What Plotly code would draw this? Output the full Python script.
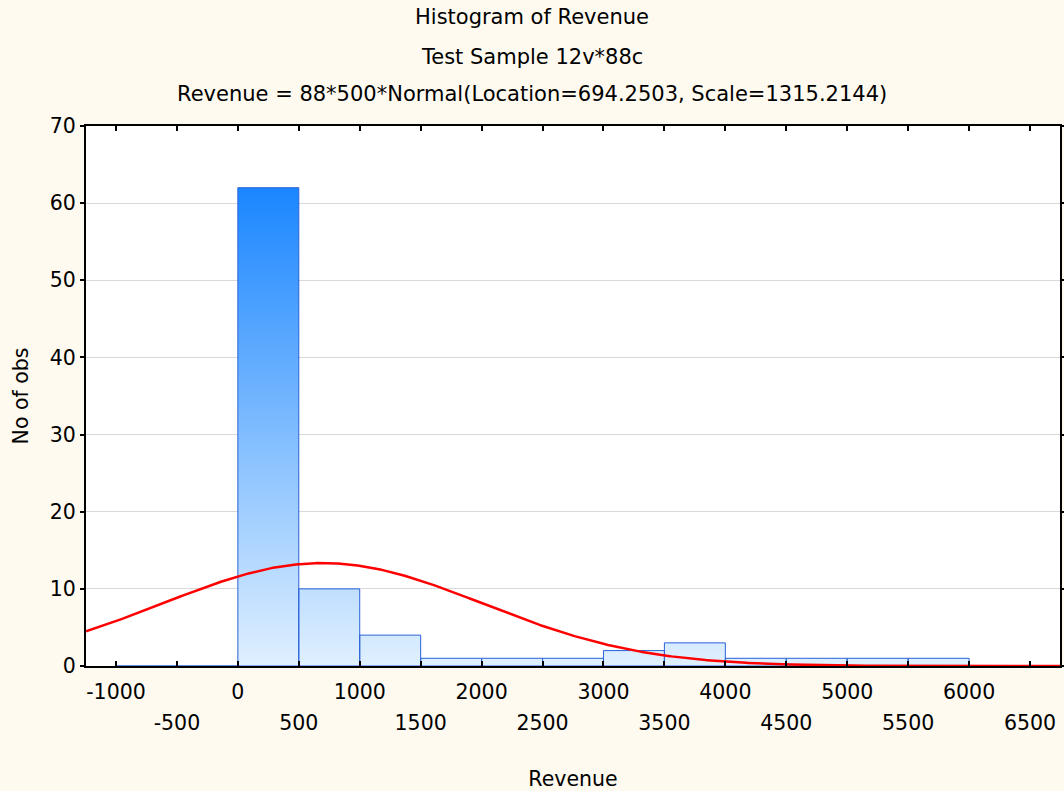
import numpy as np
import plotly.graph_objects as go

# ---- data ----
bin_starts = [-1000, -500, 0, 500, 1000, 1500, 2000, 2500, 3000, 3500, 4000, 4500, 5000, 5500]
bin_width = 500
counts = [0, 0, 62, 10, 4, 1, 1, 1, 2, 3, 1, 1, 1, 1]
n_obs = 88
location = 694.2503
scale = 1315.2144
x_tick_vals = [-1000, -500, 0, 500, 1000, 1500, 2000, 2500, 3000, 3500, 4000, 4500, 5000, 5500, 6000, 6500]
y_tick_vals = [0, 10, 20, 30, 40, 50, 60, 70]
x_range = [-1246, 6746]
y_range = [0, 70]

FONT = "DejaVu Sans"
FS = 20.5

# bar polygons (separate segments split by None)
px, py = [], []
for s, c in zip(bin_starts, counts):
    e = s + bin_width
    px += [s, s, e, e, s, None]
    py += [0, c, c, 0, 0, None]

fig = go.Figure()
fig.add_trace(go.Scatter(
    x=px, y=py, mode="lines", fill="toself",
    line=dict(color="#2a62d8", width=1),
    fillgradient=dict(type="vertical",
                      colorscale=[[0, "#e0f0ff"], [1, "#1a86ff"]],
                      start=0, stop=max(counts)),
    hoverinfo="skip", showlegend=False))

# fitted normal curve
xc = np.linspace(x_range[0], x_range[1], 600)
yc = n_obs * bin_width * np.exp(-0.5 * ((xc - location) / scale) ** 2) / (scale * np.sqrt(2 * np.pi))
fig.add_trace(go.Scatter(x=xc, y=yc, mode="lines", line=dict(color="#ff0000", width=2.5),
                         hoverinfo="skip", showlegend=False))
# invisible trace for second x axis
fig.add_trace(go.Scatter(x=[x_range[0]], y=[0], xaxis="x2", mode="markers",
                         marker=dict(opacity=0), hoverinfo="skip", showlegend=False))

row1 = [str(v) if v % 1000 == 0 else "" for v in x_tick_vals]
row2_vals = [v for v in x_tick_vals if v % 1000 != 0]

fig.update_layout(
    width=1064, height=791,
    margin=dict(l=86, r=4, t=126, b=125, autoexpand=False),
    paper_bgcolor="#fefaef", plot_bgcolor="#ffffff",
    font=dict(family=FONT, size=FS, color="#000000"),
    xaxis=dict(range=x_range, tickmode="array", tickvals=x_tick_vals, ticktext=row1,
               ticks="inside", ticklen=5, tickwidth=2, tickcolor="#000",
               showline=True, linecolor="#000", linewidth=2, mirror="ticks",
               showgrid=False, zeroline=False, ticklabelstandoff=6, automargin=False,
               title=dict(text="Revenue", standoff=69, font=dict(size=FS))),
    xaxis2=dict(range=x_range, overlaying="x", side="bottom", anchor="y",
                tickmode="array", tickvals=row2_vals, ticktext=[str(v) for v in row2_vals],
                ticks="", showline=False, showgrid=False, zeroline=False,
                ticklabelstandoff=42, automargin=False),
    yaxis=dict(range=y_range, tickmode="array", tickvals=y_tick_vals,
               ticks="outside", ticklen=4, tickwidth=2, tickcolor="#000",
               showline=True, linecolor="#000", linewidth=2, mirror="ticks",
               showgrid=True, gridcolor="#d9d9d9", gridwidth=1, zeroline=False,
               automargin=False,
               title=dict(text="No of obs", standoff=16, font=dict(size=FS))),
)

titles = ["Histogram of Revenue", "Test Sample 12v*88c",
          "Revenue = 88*500*Normal(Location=694.2503, Scale=1315.2144)"]
title_y = [17, 57, 94]
for t, yy in zip(titles, title_y):
    fig.add_annotation(text=t, xref="paper", yref="paper",
                       x=(532 - 86) / 974, y=1 + (126 - yy) / 540,
                       showarrow=False, xanchor="center", yanchor="middle",
                       font=dict(size=FS + 0.5, family=FONT))

fig.write_html("out.html")
